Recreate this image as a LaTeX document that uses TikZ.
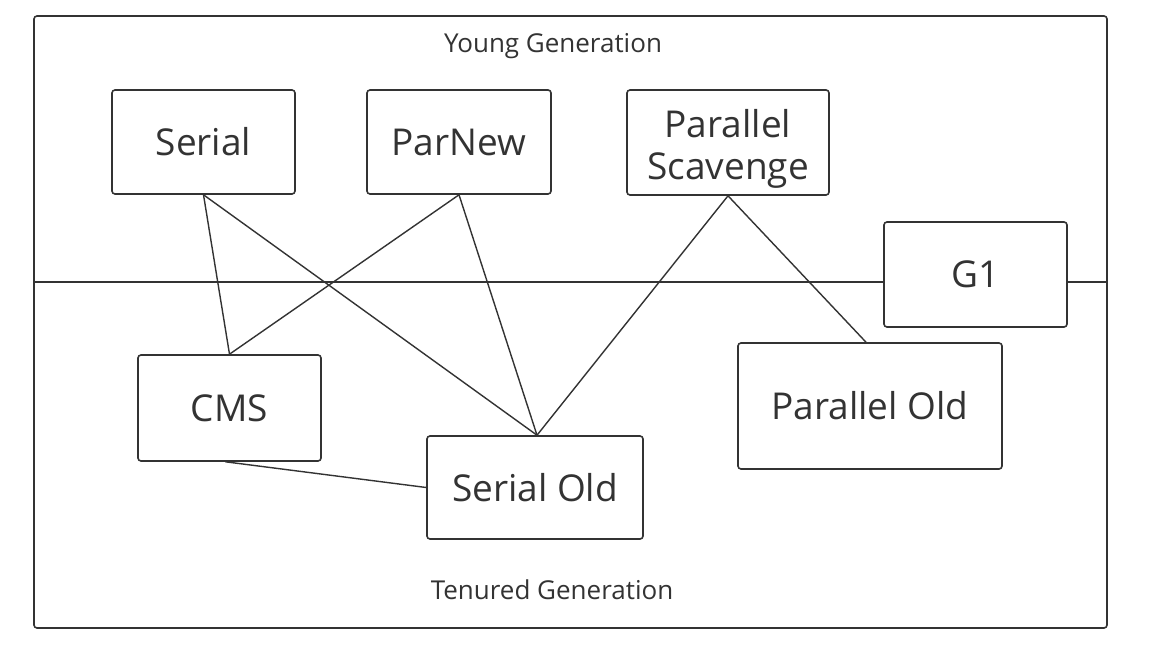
\documentclass[tikz,border=0pt]{standalone}
\usepackage{fontspec}
\setmainfont{Open Sans}
\usetikzlibrary{calc}
\definecolor{ink}{HTML}{333333}
\begin{document}
\begin{tikzpicture}[x=1pt,y=-1pt,
  gcbox/.style={draw=ink,line width=1.6pt,rounded corners=3pt,fill=white,text=ink,inner sep=0pt,
     font=\fontsize{37}{41}\selectfont,align=center},
  conn/.style={draw=ink,line width=1.4pt},
  genlabel/.style={text=ink,font=\fontsize{26}{30}\selectfont,inner sep=0pt}]
\useasboundingbox (0,0) rectangle (1156,652);
\fill[white] (0,0) rectangle (1156,652);
\node[draw=ink,line width=1.6pt,rounded corners=3pt,minimum width=1073pt,minimum height=612pt,inner sep=0pt] (frame) at (570.5,322) {};
\node[gcbox,minimum width=183pt,minimum height=104pt] (serial) at (203.5,142) {Serial};
\node[gcbox,minimum width=184pt,minimum height=104pt] (parnew) at (459,142) {ParNew};
\node[gcbox,minimum width=202pt,minimum height=105pt,font=\fontsize{37}{42}\selectfont] (ps) at (728,142.5) {\rule{0pt}{41pt}Parallel\\Scavenge};
\node[gcbox,minimum width=183pt,minimum height=105pt] (g1) at (975.5,274.5) {G1};
\node[gcbox,minimum width=183pt,minimum height=106pt] (cms) at (229.5,408) {CMS};
\node[gcbox,minimum width=216pt,minimum height=103pt] (so) at (535,487.5) {Serial Old};
\node[gcbox,minimum width=264pt,minimum height=126pt] (po) at (870,406) {Parallel Old};
\node[genlabel] (young) at (553,46) {Young Generation};
\node[genlabel] (tenured) at (552,590) {Tenured Generation};
\coordinate (g1l) at (g1.west |- 0,282);
\coordinate (g1r) at (g1.east |- 0,282);
\draw[conn] (frame.west |- g1l) -- (g1l);
\draw[conn] (g1r) -- (frame.east |- g1r);
\coordinate (sotop) at ([xshift=2pt]so.north);
\coordinate (potop) at ([xshift=-4pt]po.north);
\coordinate (cmsbot) at ([xshift=-4pt]cms.south);
\draw[conn] (serial.south) -- (cms.north);
\draw[conn] (serial.south) -- (sotop);
\draw[conn] (parnew.south) -- (cms.north);
\draw[conn] (parnew.south) -- (sotop);
\draw[conn] (ps.south) -- (sotop);
\draw[conn] (ps.south) -- (potop);
\draw[conn] (cmsbot) -- (so.west);
\end{tikzpicture}
\end{document}
